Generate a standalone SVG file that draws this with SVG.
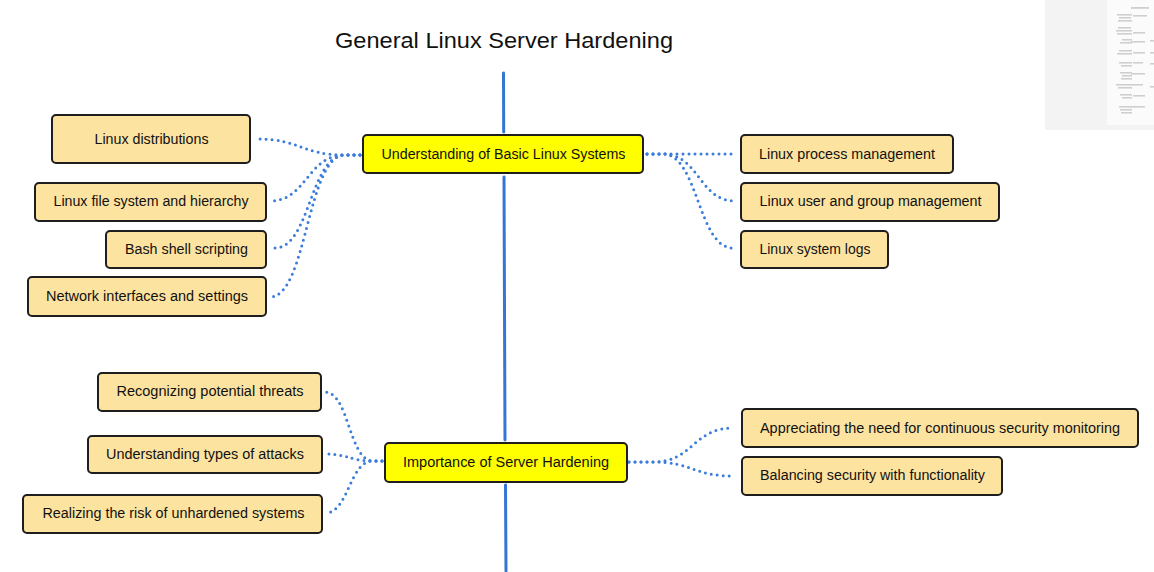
<svg xmlns="http://www.w3.org/2000/svg" width="1154" height="572" viewBox="0 0 1154 572">
<style>
.bg{fill:#ffffff}
.title{font-family:"Liberation Sans",Arial,sans-serif;font-size:22px;fill:#111}
.lbl{font-family:"Liberation Sans",Arial,sans-serif;font-size:14px;fill:#111;text-anchor:middle}
.main rect{fill:#ffff00;stroke:#1e1e1e;stroke-width:2}
.sub rect{fill:#fde3a0;stroke:#1e1e1e;stroke-width:2}
.trunk{stroke:#3575d3;stroke-width:3;fill:none;stroke-linecap:round}
.dot{stroke:#3b7ddd;stroke-width:3;fill:none;stroke-linecap:round;stroke-dasharray:0 6}
.mm{fill:#cfcfcf}
</style>
<rect class="bg" x="0" y="0" width="1154" height="572"/>

<g id="minimap">
<rect x="1045" y="0" width="109" height="130" fill="#f3f3f3"/>
<rect x="1107" y="0" width="47" height="125" fill="#fbfbfb"/>
<rect class="mm" x="1131" y="7" width="18" height="1.8"/>
<rect class="mm" x="1117" y="14" width="15" height="1.6"/>
<rect class="mm" x="1119" y="17" width="12" height="1.6"/>
<rect class="mm" x="1118" y="20" width="14" height="1.6"/>
<rect class="mm" x="1133" y="15" width="14" height="1.6"/>
<rect class="mm" x="1118" y="27" width="13" height="1.6"/>
<rect class="mm" x="1116" y="30" width="16" height="1.6"/>
<rect class="mm" x="1117" y="33" width="15" height="1.6"/>
<rect class="mm" x="1133" y="32" width="12" height="1.6"/>
<rect class="mm" x="1122" y="39" width="10" height="1.6"/>
<rect class="mm" x="1120" y="42" width="12" height="1.6"/>
<rect class="mm" x="1131" y="41" width="14" height="1.6"/>
<rect class="mm" x="1119" y="50" width="13" height="1.6"/>
<rect class="mm" x="1117" y="53" width="15" height="1.6"/>
<rect class="mm" x="1133" y="52" width="12" height="1.6"/>
<rect class="mm" x="1119" y="62" width="13" height="1.6"/>
<rect class="mm" x="1121" y="65" width="11" height="1.6"/>
<rect class="mm" x="1133" y="62" width="10" height="1.6"/>
<rect class="mm" x="1120" y="72" width="12" height="1.6"/>
<rect class="mm" x="1122" y="75" width="10" height="1.6"/>
<rect class="mm" x="1121" y="78" width="11" height="1.6"/>
<rect class="mm" x="1131" y="73" width="14" height="1.6"/>
<rect class="mm" x="1116" y="84" width="16" height="1.6"/>
<rect class="mm" x="1118" y="87" width="14" height="1.6"/>
<rect class="mm" x="1131" y="84" width="12" height="1.6"/>
<rect class="mm" x="1120" y="94" width="12" height="1.6"/>
<rect class="mm" x="1122" y="97" width="10" height="1.6"/>
<rect class="mm" x="1133" y="95" width="12" height="1.6"/>
<rect class="mm" x="1119" y="106" width="13" height="1.6"/>
<rect class="mm" x="1120" y="109" width="12" height="1.6"/>
<rect class="mm" x="1121" y="112" width="11" height="1.6"/>
<rect class="mm" x="1131" y="106" width="14" height="1.6"/>
<rect class="mm" x="1150" y="40" width="4" height="1.6"/>
<rect class="mm" x="1150" y="52" width="4" height="1.6"/>
<rect class="mm" x="1150" y="63" width="4" height="1.6"/>
<rect class="mm" x="1150" y="86" width="4" height="1.6"/>
</g>

<text class="title" x="335" y="48" textLength="338" lengthAdjust="spacingAndGlyphs">General Linux Server Hardening</text>

<g id="connectors">
<path class="trunk" d="M503.5 73 L503.7 132"/>
<path class="trunk" d="M504 177 L505 440"/>
<path class="trunk" d="M505.5 485 L506 571"/>
<path class="dot" d="M360 155 L345 155 C301 155 301 139 257 139"/>
<path class="dot" d="M360 155 L345 155 C307 155 307 201 270 201"/>
<path class="dot" d="M360 155 L345 155 C310 155 310 248 275 248"/>
<path class="dot" d="M360 155 L345 155 C307 155 307 297 270 297"/>
<path class="dot" d="M647 154 L663 154 L736 154"/>
<path class="dot" d="M647 154 L663 154 C699 154 699 201 735 201"/>
<path class="dot" d="M647 154 L663 154 C698 154 698 248 733 248"/>
<path class="dot" d="M382 461 L373 461 C349 461 349 392 325 392"/>
<path class="dot" d="M382 461 L373 461 C349 461 349 454 325 454"/>
<path class="dot" d="M382 461 L373 461 C349 461 349 513 325 513"/>
<path class="dot" d="M629 462 L653 462 C693 462 693 428 733 428"/>
<path class="dot" d="M629 462 L653 462 C693 462 693 476 733 476"/>
</g>

<g id="n-basic" class="main"><rect x="363" y="135" width="280" height="38" rx="4"/><text class="lbl" x="503.5" y="158.5" textLength="244" lengthAdjust="spacingAndGlyphs">Understanding of Basic Linux Systems</text></g>
<g id="n-importance" class="main"><rect x="385" y="443" width="242" height="39" rx="4"/><text class="lbl" x="506" y="466.5" textLength="206" lengthAdjust="spacingAndGlyphs">Importance of Server Hardening</text></g>

<g id="n-distros" class="sub"><rect x="52" y="115" width="198" height="48" rx="4"/><text class="lbl" x="151.5" y="143.5" textLength="114" lengthAdjust="spacingAndGlyphs">Linux distributions</text></g>
<g id="n-fs" class="sub"><rect x="35" y="183" width="231" height="38" rx="4"/><text class="lbl" x="151" y="206" textLength="195" lengthAdjust="spacingAndGlyphs">Linux file system and hierarchy</text></g>
<g id="n-bash" class="sub"><rect x="106" y="231" width="160" height="37" rx="4"/><text class="lbl" x="186.5" y="254" textLength="123" lengthAdjust="spacingAndGlyphs">Bash shell scripting</text></g>
<g id="n-net" class="sub"><rect x="28" y="277" width="238" height="39" rx="4"/><text class="lbl" x="147" y="301" textLength="202" lengthAdjust="spacingAndGlyphs">Network interfaces and settings</text></g>

<g id="n-proc" class="sub"><rect x="741" y="135" width="212" height="38" rx="4"/><text class="lbl" x="847" y="158.5" textLength="176" lengthAdjust="spacingAndGlyphs">Linux process management</text></g>
<g id="n-user" class="sub"><rect x="741" y="183" width="258" height="38" rx="4"/><text class="lbl" x="870.5" y="206" textLength="222" lengthAdjust="spacingAndGlyphs">Linux user and group management</text></g>
<g id="n-logs" class="sub"><rect x="741" y="231" width="147" height="37" rx="4"/><text class="lbl" x="815" y="253.5" textLength="111" lengthAdjust="spacingAndGlyphs">Linux system logs</text></g>

<g id="n-threats" class="sub"><rect x="98" y="373" width="223" height="38" rx="4"/><text class="lbl" x="210" y="396" textLength="187" lengthAdjust="spacingAndGlyphs">Recognizing potential threats</text></g>
<g id="n-attacks" class="sub"><rect x="88" y="436" width="234" height="37" rx="4"/><text class="lbl" x="205" y="458.5" textLength="198" lengthAdjust="spacingAndGlyphs">Understanding types of attacks</text></g>
<g id="n-risk" class="sub"><rect x="23" y="495" width="299" height="38" rx="4"/><text class="lbl" x="173.5" y="517.5" textLength="262" lengthAdjust="spacingAndGlyphs">Realizing the risk of unhardened systems</text></g>

<g id="n-monitor" class="sub"><rect x="742" y="409" width="396" height="38" rx="4"/><text class="lbl" x="940" y="432.5" textLength="360" lengthAdjust="spacingAndGlyphs">Appreciating the need for continuous security monitoring</text></g>
<g id="n-balance" class="sub"><rect x="742" y="457" width="260" height="38" rx="4"/><text class="lbl" x="872.5" y="480" textLength="225" lengthAdjust="spacingAndGlyphs">Balancing security with functionality</text></g>
</svg>
